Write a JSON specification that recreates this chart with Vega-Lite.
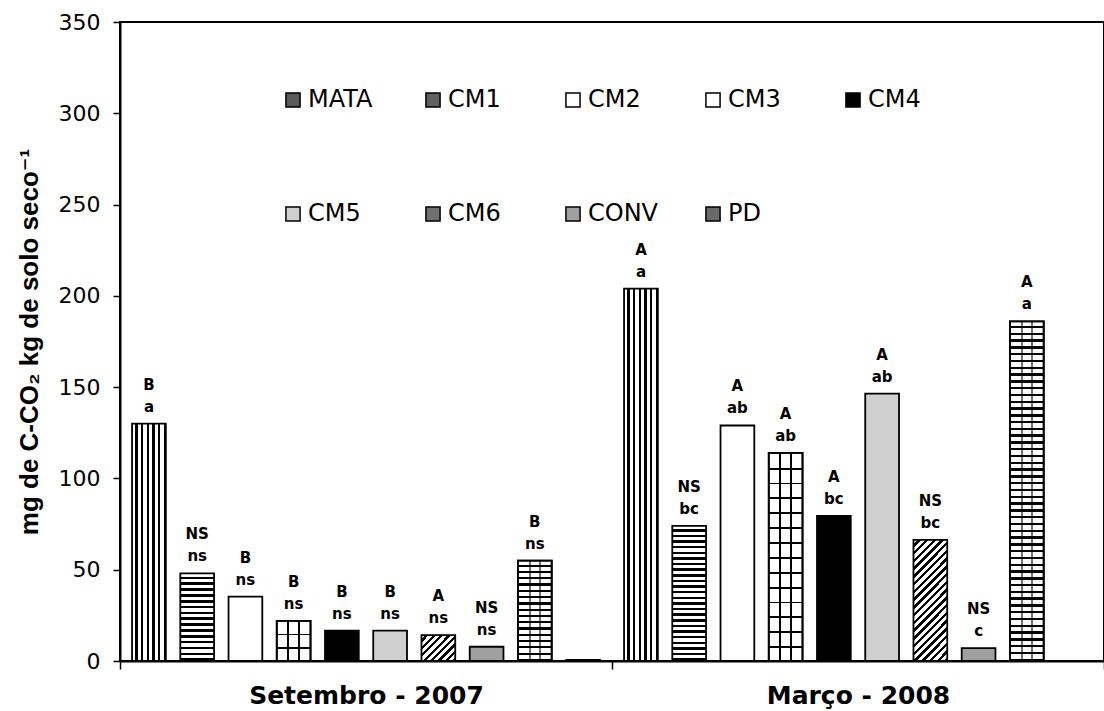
{
  "$schema": "https://vega.github.io/schema/vega-lite/v6.json",
  "width": 984,
  "height": 639,
  "autosize": {"type": "none"},
  "padding": {"left": 120, "top": 22, "right": 0, "bottom": 50},
  "background": "white",
  "config": {
    "view": {"stroke": "black", "strokeWidth": 2},
    "axis": {"domainColor": "black", "domainWidth": 2, "tickColor": "black", "tickWidth": 1.5, "grid": false, "labelColor": "black", "titleColor": "black"}
  },
  "data": {"values": [
    {"period": "Setembro - 2007", "trt": "MATA", "v": 130, "up": "B", "low": "a"},
    {"period": "Setembro - 2007", "trt": "CM1", "v": 48, "up": "NS", "low": "ns"},
    {"period": "Setembro - 2007", "trt": "CM2", "v": 35.3, "up": "B", "low": "ns"},
    {"period": "Setembro - 2007", "trt": "CM3", "v": 22, "up": "B", "low": "ns"},
    {"period": "Setembro - 2007", "trt": "CM4", "v": 16.6, "up": "B", "low": "ns"},
    {"period": "Setembro - 2007", "trt": "CM5", "v": 16.6, "up": "B", "low": "ns"},
    {"period": "Setembro - 2007", "trt": "CM6", "v": 14.2, "up": "A", "low": "ns"},
    {"period": "Setembro - 2007", "trt": "CONV", "v": 7.8, "up": "NS", "low": "ns"},
    {"period": "Setembro - 2007", "trt": "PD", "v": 55, "up": "B", "low": "ns"},
    {"period": "Setembro - 2007", "trt": "outro", "v": 0.6, "up": null, "low": null},
    {"period": "Março - 2008", "trt": "MATA", "v": 204, "up": "A", "low": "a"},
    {"period": "Março - 2008", "trt": "CM1", "v": 74, "up": "NS", "low": "bc"},
    {"period": "Março - 2008", "trt": "CM2", "v": 129, "up": "A", "low": "ab"},
    {"period": "Março - 2008", "trt": "CM3", "v": 114, "up": "A", "low": "ab"},
    {"period": "Março - 2008", "trt": "CM4", "v": 79.5, "up": "A", "low": "bc"},
    {"period": "Março - 2008", "trt": "CM5", "v": 146.5, "up": "A", "low": "ab"},
    {"period": "Março - 2008", "trt": "CM6", "v": 66.3, "up": "NS", "low": "bc"},
    {"period": "Março - 2008", "trt": "CONV", "v": 7, "up": "NS", "low": "c"},
    {"period": "Março - 2008", "trt": "PD", "v": 186, "up": "A", "low": "a"}
  ]},
  "encoding": {
    "x": {"field": "period", "type": "nominal",
      "scale": {"domain": ["Setembro - 2007", "Março - 2008"], "paddingInner": 0, "paddingOuter": 0},
      "axis": {"title": null, "tickBand": "extent", "labelAngle": 0, "labelLimit": 400, "labelFont": "DejaVu Sans", "labelFontWeight": "bold", "labelFontSize": 25, "labelPadding": 14, "tickSize": 8}},
    "xOffset": {"field": "trt", "type": "nominal",
      "scale": {"domain": ["MATA", "CM1", "CM2", "CM3", "CM4", "CM5", "CM6", "CONV", "PD", "outro"], "paddingInner": 0.3, "paddingOuter": 0.25}},
    "y": {"field": "v", "type": "quantitative",
      "scale": {"domain": [0, 350], "nice": false},
      "axis": {"values": [0, 50, 100, 150, 200, 250, 300, 350], "title": "mg de C-CO₂ kg de solo seco⁻¹", "titleFont": "Liberation Sans, DejaVu Sans", "titleFontSize": 26, "titleFontWeight": "bold", "titlePadding": 16, "labelFont": "DejaVu Sans", "labelFontSize": 22, "labelPadding": 13, "tickSize": 7}}
  },
  "layer": [
    {
      "mark": {"type": "bar", "stroke": "black", "strokeWidth": 1.8},
      "encoding": {
        "fill": {
          "field": "trt", "type": "nominal",
          "scale": {"domain": ["MATA", "CM1", "CM2", "CM3", "CM4", "CM5", "CM6", "CONV", "PD", "outro"],
                    "range": ["#5a5a5a", "#606060", "#ffffff", "#ffffff", "#000000", "#d0d0d0", "#707070", "#a0a0a0", "#6a6a6a", "#ffffff"]},
          "legend": {"title": null, "orient": "none", "legendX": 161, "legendY": 66, "columns": 5, "direction": "horizontal", "gridAlign": "all", "columnPadding": 42, "rowPadding": 90, "padding": 0, "symbolType": "square", "symbolSize": 200, "symbolStrokeColor": "black", "symbolStrokeWidth": 1.5, "symbolOpacity": 1, "labelFont": "DejaVu Sans", "labelFontSize": 24, "labelColor": "black", "labelOffset": 3,
                     "values": ["MATA", "CM1", "CM2", "CM3", "CM4", "CM5", "CM6", "CONV", "PD"]},
          "condition": [
            {"test": "datum.trt==='MATA'", "value": {"gradient": "linear", "x1": 0, "y1": 0, "x2": 1, "y2": 0, "stops": [
              {"offset": 0, "color": "#fff"}, {"offset": 0.1, "color": "#fff"}, {"offset": 0.1, "color": "#000"}, {"offset": 0.1667, "color": "#000"},
              {"offset": 0.1667, "color": "#fff"}, {"offset": 0.2667, "color": "#fff"}, {"offset": 0.2667, "color": "#000"}, {"offset": 0.3333, "color": "#000"},
              {"offset": 0.3333, "color": "#fff"}, {"offset": 0.4333, "color": "#fff"}, {"offset": 0.4333, "color": "#000"}, {"offset": 0.5, "color": "#000"},
              {"offset": 0.5, "color": "#fff"}, {"offset": 0.6, "color": "#fff"}, {"offset": 0.6, "color": "#000"}, {"offset": 0.6667, "color": "#000"},
              {"offset": 0.6667, "color": "#fff"}, {"offset": 0.7667, "color": "#fff"}, {"offset": 0.7667, "color": "#000"}, {"offset": 0.8333, "color": "#000"},
              {"offset": 0.8333, "color": "#fff"}, {"offset": 0.9333, "color": "#fff"}, {"offset": 0.9333, "color": "#000"}, {"offset": 1, "color": "#000"}]}},
            {"test": "datum.trt==='CM1' && datum.period==='Setembro - 2007'", "value": {"gradient": "linear", "x1": 0, "y1": 0, "x2": 0, "y2": 1, "stops": [
              {"offset": 0, "color": "#fff"}, {"offset": 0.0367, "color": "#fff"}, {"offset": 0.0367, "color": "#000"}, {"offset": 0.0667, "color": "#000"},
              {"offset": 0.0667, "color": "#fff"}, {"offset": 0.1033, "color": "#fff"}, {"offset": 0.1033, "color": "#000"}, {"offset": 0.1333, "color": "#000"},
              {"offset": 0.1333, "color": "#fff"}, {"offset": 0.17, "color": "#fff"}, {"offset": 0.17, "color": "#000"}, {"offset": 0.2, "color": "#000"},
              {"offset": 0.2, "color": "#fff"}, {"offset": 0.2367, "color": "#fff"}, {"offset": 0.2367, "color": "#000"}, {"offset": 0.2667, "color": "#000"},
              {"offset": 0.2667, "color": "#fff"}, {"offset": 0.3033, "color": "#fff"}, {"offset": 0.3033, "color": "#000"}, {"offset": 0.3333, "color": "#000"},
              {"offset": 0.3333, "color": "#fff"}, {"offset": 0.37, "color": "#fff"}, {"offset": 0.37, "color": "#000"}, {"offset": 0.4, "color": "#000"},
              {"offset": 0.4, "color": "#fff"}, {"offset": 0.4367, "color": "#fff"}, {"offset": 0.4367, "color": "#000"}, {"offset": 0.4667, "color": "#000"},
              {"offset": 0.4667, "color": "#fff"}, {"offset": 0.5033, "color": "#fff"}, {"offset": 0.5033, "color": "#000"}, {"offset": 0.5333, "color": "#000"},
              {"offset": 0.5333, "color": "#fff"}, {"offset": 0.57, "color": "#fff"}, {"offset": 0.57, "color": "#000"}, {"offset": 0.6, "color": "#000"},
              {"offset": 0.6, "color": "#fff"}, {"offset": 0.6367, "color": "#fff"}, {"offset": 0.6367, "color": "#000"}, {"offset": 0.6667, "color": "#000"},
              {"offset": 0.6667, "color": "#fff"}, {"offset": 0.7033, "color": "#fff"}, {"offset": 0.7033, "color": "#000"}, {"offset": 0.7333, "color": "#000"},
              {"offset": 0.7333, "color": "#fff"}, {"offset": 0.77, "color": "#fff"}, {"offset": 0.77, "color": "#000"}, {"offset": 0.8, "color": "#000"},
              {"offset": 0.8, "color": "#fff"}, {"offset": 0.8367, "color": "#fff"}, {"offset": 0.8367, "color": "#000"}, {"offset": 0.8667, "color": "#000"},
              {"offset": 0.8667, "color": "#fff"}, {"offset": 0.9033, "color": "#fff"}, {"offset": 0.9033, "color": "#000"}, {"offset": 0.9333, "color": "#000"},
              {"offset": 0.9333, "color": "#fff"}, {"offset": 0.97, "color": "#fff"}, {"offset": 0.97, "color": "#000"}, {"offset": 1, "color": "#000"}]}},
            {"test": "datum.trt==='CM1'", "value": {"gradient": "linear", "x1": 0, "y1": 0, "x2": 0, "y2": 1, "stops": [
              {"offset": 0, "color": "#fff"}, {"offset": 0.0229, "color": "#fff"}, {"offset": 0.0229, "color": "#000"}, {"offset": 0.0417, "color": "#000"},
              {"offset": 0.0417, "color": "#fff"}, {"offset": 0.0646, "color": "#fff"}, {"offset": 0.0646, "color": "#000"}, {"offset": 0.0833, "color": "#000"},
              {"offset": 0.0833, "color": "#fff"}, {"offset": 0.1063, "color": "#fff"}, {"offset": 0.1063, "color": "#000"}, {"offset": 0.125, "color": "#000"},
              {"offset": 0.125, "color": "#fff"}, {"offset": 0.1479, "color": "#fff"}, {"offset": 0.1479, "color": "#000"}, {"offset": 0.1667, "color": "#000"},
              {"offset": 0.1667, "color": "#fff"}, {"offset": 0.1896, "color": "#fff"}, {"offset": 0.1896, "color": "#000"}, {"offset": 0.2083, "color": "#000"},
              {"offset": 0.2083, "color": "#fff"}, {"offset": 0.2313, "color": "#fff"}, {"offset": 0.2313, "color": "#000"}, {"offset": 0.25, "color": "#000"},
              {"offset": 0.25, "color": "#fff"}, {"offset": 0.2729, "color": "#fff"}, {"offset": 0.2729, "color": "#000"}, {"offset": 0.2917, "color": "#000"},
              {"offset": 0.2917, "color": "#fff"}, {"offset": 0.3146, "color": "#fff"}, {"offset": 0.3146, "color": "#000"}, {"offset": 0.3333, "color": "#000"},
              {"offset": 0.3333, "color": "#fff"}, {"offset": 0.3563, "color": "#fff"}, {"offset": 0.3563, "color": "#000"}, {"offset": 0.375, "color": "#000"},
              {"offset": 0.375, "color": "#fff"}, {"offset": 0.3979, "color": "#fff"}, {"offset": 0.3979, "color": "#000"}, {"offset": 0.4167, "color": "#000"},
              {"offset": 0.4167, "color": "#fff"}, {"offset": 0.4396, "color": "#fff"}, {"offset": 0.4396, "color": "#000"}, {"offset": 0.4583, "color": "#000"},
              {"offset": 0.4583, "color": "#fff"}, {"offset": 0.4813, "color": "#fff"}, {"offset": 0.4813, "color": "#000"}, {"offset": 0.5, "color": "#000"},
              {"offset": 0.5, "color": "#fff"}, {"offset": 0.5229, "color": "#fff"}, {"offset": 0.5229, "color": "#000"}, {"offset": 0.5417, "color": "#000"},
              {"offset": 0.5417, "color": "#fff"}, {"offset": 0.5646, "color": "#fff"}, {"offset": 0.5646, "color": "#000"}, {"offset": 0.5833, "color": "#000"},
              {"offset": 0.5833, "color": "#fff"}, {"offset": 0.6063, "color": "#fff"}, {"offset": 0.6063, "color": "#000"}, {"offset": 0.625, "color": "#000"},
              {"offset": 0.625, "color": "#fff"}, {"offset": 0.6479, "color": "#fff"}, {"offset": 0.6479, "color": "#000"}, {"offset": 0.6667, "color": "#000"},
              {"offset": 0.6667, "color": "#fff"}, {"offset": 0.6896, "color": "#fff"}, {"offset": 0.6896, "color": "#000"}, {"offset": 0.7083, "color": "#000"},
              {"offset": 0.7083, "color": "#fff"}, {"offset": 0.7313, "color": "#fff"}, {"offset": 0.7313, "color": "#000"}, {"offset": 0.75, "color": "#000"},
              {"offset": 0.75, "color": "#fff"}, {"offset": 0.7729, "color": "#fff"}, {"offset": 0.7729, "color": "#000"}, {"offset": 0.7917, "color": "#000"},
              {"offset": 0.7917, "color": "#fff"}, {"offset": 0.8146, "color": "#fff"}, {"offset": 0.8146, "color": "#000"}, {"offset": 0.8333, "color": "#000"},
              {"offset": 0.8333, "color": "#fff"}, {"offset": 0.8563, "color": "#fff"}, {"offset": 0.8563, "color": "#000"}, {"offset": 0.875, "color": "#000"},
              {"offset": 0.875, "color": "#fff"}, {"offset": 0.8979, "color": "#fff"}, {"offset": 0.8979, "color": "#000"}, {"offset": 0.9167, "color": "#000"},
              {"offset": 0.9167, "color": "#fff"}, {"offset": 0.9396, "color": "#fff"}, {"offset": 0.9396, "color": "#000"}, {"offset": 0.9583, "color": "#000"},
              {"offset": 0.9583, "color": "#fff"}, {"offset": 0.9813, "color": "#fff"}, {"offset": 0.9813, "color": "#000"}, {"offset": 1, "color": "#000"}]}},
            {"test": "datum.trt==='CM3'", "value": {"gradient": "linear", "x1": 0, "y1": 0, "x2": 1, "y2": 0, "stops": [
              {"offset": 0, "color": "#fff"}, {"offset": 0.31, "color": "#fff"}, {"offset": 0.31, "color": "#000"}, {"offset": 0.36, "color": "#000"},
              {"offset": 0.36, "color": "#fff"}, {"offset": 0.64, "color": "#fff"}, {"offset": 0.64, "color": "#000"}, {"offset": 0.69, "color": "#000"},
              {"offset": 0.69, "color": "#fff"}, {"offset": 1, "color": "#fff"}]}},
            {"test": "datum.trt==='CM6' && datum.period==='Setembro - 2007'", "value": {"gradient": "linear", "x1": 0, "y1": 0, "x2": 1.113, "y2": 0.851, "stops": [
              {"offset": 0, "color": "#fff"}, {"offset": 0.069, "color": "#fff"}, {"offset": 0.069, "color": "#000"}, {"offset": 0.125, "color": "#000"},
              {"offset": 0.125, "color": "#fff"}, {"offset": 0.194, "color": "#fff"}, {"offset": 0.194, "color": "#000"}, {"offset": 0.25, "color": "#000"},
              {"offset": 0.25, "color": "#fff"}, {"offset": 0.319, "color": "#fff"}, {"offset": 0.319, "color": "#000"}, {"offset": 0.375, "color": "#000"},
              {"offset": 0.375, "color": "#fff"}, {"offset": 0.444, "color": "#fff"}, {"offset": 0.444, "color": "#000"}, {"offset": 0.5, "color": "#000"},
              {"offset": 0.5, "color": "#fff"}, {"offset": 0.569, "color": "#fff"}, {"offset": 0.569, "color": "#000"}, {"offset": 0.625, "color": "#000"},
              {"offset": 0.625, "color": "#fff"}, {"offset": 0.694, "color": "#fff"}, {"offset": 0.694, "color": "#000"}, {"offset": 0.75, "color": "#000"},
              {"offset": 0.75, "color": "#fff"}, {"offset": 0.819, "color": "#fff"}, {"offset": 0.819, "color": "#000"}, {"offset": 0.875, "color": "#000"},
              {"offset": 0.875, "color": "#fff"}, {"offset": 0.944, "color": "#fff"}, {"offset": 0.944, "color": "#000"}, {"offset": 1, "color": "#000"}]}},
            {"test": "datum.trt==='CM6'", "value": {"gradient": "linear", "x1": 0, "y1": 0, "x2": 0.3336, "y2": 1.187, "stops": [
              {"offset": 0, "color": "#fff"}, {"offset": 0.0275, "color": "#fff"}, {"offset": 0.0275, "color": "#000"}, {"offset": 0.05, "color": "#000"},
              {"offset": 0.05, "color": "#fff"}, {"offset": 0.0775, "color": "#fff"}, {"offset": 0.0775, "color": "#000"}, {"offset": 0.1, "color": "#000"},
              {"offset": 0.1, "color": "#fff"}, {"offset": 0.1275, "color": "#fff"}, {"offset": 0.1275, "color": "#000"}, {"offset": 0.15, "color": "#000"},
              {"offset": 0.15, "color": "#fff"}, {"offset": 0.1775, "color": "#fff"}, {"offset": 0.1775, "color": "#000"}, {"offset": 0.2, "color": "#000"},
              {"offset": 0.2, "color": "#fff"}, {"offset": 0.2275, "color": "#fff"}, {"offset": 0.2275, "color": "#000"}, {"offset": 0.25, "color": "#000"},
              {"offset": 0.25, "color": "#fff"}, {"offset": 0.2775, "color": "#fff"}, {"offset": 0.2775, "color": "#000"}, {"offset": 0.3, "color": "#000"},
              {"offset": 0.3, "color": "#fff"}, {"offset": 0.3275, "color": "#fff"}, {"offset": 0.3275, "color": "#000"}, {"offset": 0.35, "color": "#000"},
              {"offset": 0.35, "color": "#fff"}, {"offset": 0.3775, "color": "#fff"}, {"offset": 0.3775, "color": "#000"}, {"offset": 0.4, "color": "#000"},
              {"offset": 0.4, "color": "#fff"}, {"offset": 0.4275, "color": "#fff"}, {"offset": 0.4275, "color": "#000"}, {"offset": 0.45, "color": "#000"},
              {"offset": 0.45, "color": "#fff"}, {"offset": 0.4775, "color": "#fff"}, {"offset": 0.4775, "color": "#000"}, {"offset": 0.5, "color": "#000"},
              {"offset": 0.5, "color": "#fff"}, {"offset": 0.5275, "color": "#fff"}, {"offset": 0.5275, "color": "#000"}, {"offset": 0.55, "color": "#000"},
              {"offset": 0.55, "color": "#fff"}, {"offset": 0.5775, "color": "#fff"}, {"offset": 0.5775, "color": "#000"}, {"offset": 0.6, "color": "#000"},
              {"offset": 0.6, "color": "#fff"}, {"offset": 0.6275, "color": "#fff"}, {"offset": 0.6275, "color": "#000"}, {"offset": 0.65, "color": "#000"},
              {"offset": 0.65, "color": "#fff"}, {"offset": 0.6775, "color": "#fff"}, {"offset": 0.6775, "color": "#000"}, {"offset": 0.7, "color": "#000"},
              {"offset": 0.7, "color": "#fff"}, {"offset": 0.7275, "color": "#fff"}, {"offset": 0.7275, "color": "#000"}, {"offset": 0.75, "color": "#000"},
              {"offset": 0.75, "color": "#fff"}, {"offset": 0.7775, "color": "#fff"}, {"offset": 0.7775, "color": "#000"}, {"offset": 0.8, "color": "#000"},
              {"offset": 0.8, "color": "#fff"}, {"offset": 0.8275, "color": "#fff"}, {"offset": 0.8275, "color": "#000"}, {"offset": 0.85, "color": "#000"},
              {"offset": 0.85, "color": "#fff"}, {"offset": 0.8775, "color": "#fff"}, {"offset": 0.8775, "color": "#000"}, {"offset": 0.9, "color": "#000"},
              {"offset": 0.9, "color": "#fff"}, {"offset": 0.9275, "color": "#fff"}, {"offset": 0.9275, "color": "#000"}, {"offset": 0.95, "color": "#000"},
              {"offset": 0.95, "color": "#fff"}, {"offset": 0.9775, "color": "#fff"}, {"offset": 0.9775, "color": "#000"}, {"offset": 1, "color": "#000"}]}},
            {"test": "datum.trt==='PD' && datum.period==='Setembro - 2007'", "value": {"gradient": "linear", "x1": 0, "y1": 0, "x2": 0, "y2": 1, "stops": [
              {"offset": 0, "color": "#fff"}, {"offset": 0.0406, "color": "#fff"}, {"offset": 0.0406, "color": "#000"}, {"offset": 0.0625, "color": "#000"},
              {"offset": 0.0625, "color": "#fff"}, {"offset": 0.1031, "color": "#fff"}, {"offset": 0.1031, "color": "#000"}, {"offset": 0.125, "color": "#000"},
              {"offset": 0.125, "color": "#fff"}, {"offset": 0.1656, "color": "#fff"}, {"offset": 0.1656, "color": "#000"}, {"offset": 0.1875, "color": "#000"},
              {"offset": 0.1875, "color": "#fff"}, {"offset": 0.2281, "color": "#fff"}, {"offset": 0.2281, "color": "#000"}, {"offset": 0.25, "color": "#000"},
              {"offset": 0.25, "color": "#fff"}, {"offset": 0.2906, "color": "#fff"}, {"offset": 0.2906, "color": "#000"}, {"offset": 0.3125, "color": "#000"},
              {"offset": 0.3125, "color": "#fff"}, {"offset": 0.3531, "color": "#fff"}, {"offset": 0.3531, "color": "#000"}, {"offset": 0.375, "color": "#000"},
              {"offset": 0.375, "color": "#fff"}, {"offset": 0.4156, "color": "#fff"}, {"offset": 0.4156, "color": "#000"}, {"offset": 0.4375, "color": "#000"},
              {"offset": 0.4375, "color": "#fff"}, {"offset": 0.4781, "color": "#fff"}, {"offset": 0.4781, "color": "#000"}, {"offset": 0.5, "color": "#000"},
              {"offset": 0.5, "color": "#fff"}, {"offset": 0.5406, "color": "#fff"}, {"offset": 0.5406, "color": "#000"}, {"offset": 0.5625, "color": "#000"},
              {"offset": 0.5625, "color": "#fff"}, {"offset": 0.6031, "color": "#fff"}, {"offset": 0.6031, "color": "#000"}, {"offset": 0.625, "color": "#000"},
              {"offset": 0.625, "color": "#fff"}, {"offset": 0.6656, "color": "#fff"}, {"offset": 0.6656, "color": "#000"}, {"offset": 0.6875, "color": "#000"},
              {"offset": 0.6875, "color": "#fff"}, {"offset": 0.7281, "color": "#fff"}, {"offset": 0.7281, "color": "#000"}, {"offset": 0.75, "color": "#000"},
              {"offset": 0.75, "color": "#fff"}, {"offset": 0.7906, "color": "#fff"}, {"offset": 0.7906, "color": "#000"}, {"offset": 0.8125, "color": "#000"},
              {"offset": 0.8125, "color": "#fff"}, {"offset": 0.8531, "color": "#fff"}, {"offset": 0.8531, "color": "#000"}, {"offset": 0.875, "color": "#000"},
              {"offset": 0.875, "color": "#fff"}, {"offset": 0.9156, "color": "#fff"}, {"offset": 0.9156, "color": "#000"}, {"offset": 0.9375, "color": "#000"},
              {"offset": 0.9375, "color": "#fff"}, {"offset": 0.9781, "color": "#fff"}, {"offset": 0.9781, "color": "#000"}, {"offset": 1, "color": "#000"}]}},
            {"test": "datum.trt==='PD'", "value": {"gradient": "linear", "x1": 0, "y1": 0, "x2": 0, "y2": 1, "stops": [
              {"offset": 0, "color": "#fff"}, {"offset": 0.013, "color": "#fff"}, {"offset": 0.013, "color": "#000"}, {"offset": 0.02, "color": "#000"},
              {"offset": 0.02, "color": "#fff"}, {"offset": 0.033, "color": "#fff"}, {"offset": 0.033, "color": "#000"}, {"offset": 0.04, "color": "#000"},
              {"offset": 0.04, "color": "#fff"}, {"offset": 0.053, "color": "#fff"}, {"offset": 0.053, "color": "#000"}, {"offset": 0.06, "color": "#000"},
              {"offset": 0.06, "color": "#fff"}, {"offset": 0.073, "color": "#fff"}, {"offset": 0.073, "color": "#000"}, {"offset": 0.08, "color": "#000"},
              {"offset": 0.08, "color": "#fff"}, {"offset": 0.093, "color": "#fff"}, {"offset": 0.093, "color": "#000"}, {"offset": 0.1, "color": "#000"},
              {"offset": 0.1, "color": "#fff"}, {"offset": 0.113, "color": "#fff"}, {"offset": 0.113, "color": "#000"}, {"offset": 0.12, "color": "#000"},
              {"offset": 0.12, "color": "#fff"}, {"offset": 0.133, "color": "#fff"}, {"offset": 0.133, "color": "#000"}, {"offset": 0.14, "color": "#000"},
              {"offset": 0.14, "color": "#fff"}, {"offset": 0.153, "color": "#fff"}, {"offset": 0.153, "color": "#000"}, {"offset": 0.16, "color": "#000"},
              {"offset": 0.16, "color": "#fff"}, {"offset": 0.173, "color": "#fff"}, {"offset": 0.173, "color": "#000"}, {"offset": 0.18, "color": "#000"},
              {"offset": 0.18, "color": "#fff"}, {"offset": 0.193, "color": "#fff"}, {"offset": 0.193, "color": "#000"}, {"offset": 0.2, "color": "#000"},
              {"offset": 0.2, "color": "#fff"}, {"offset": 0.213, "color": "#fff"}, {"offset": 0.213, "color": "#000"}, {"offset": 0.22, "color": "#000"},
              {"offset": 0.22, "color": "#fff"}, {"offset": 0.233, "color": "#fff"}, {"offset": 0.233, "color": "#000"}, {"offset": 0.24, "color": "#000"},
              {"offset": 0.24, "color": "#fff"}, {"offset": 0.253, "color": "#fff"}, {"offset": 0.253, "color": "#000"}, {"offset": 0.26, "color": "#000"},
              {"offset": 0.26, "color": "#fff"}, {"offset": 0.273, "color": "#fff"}, {"offset": 0.273, "color": "#000"}, {"offset": 0.28, "color": "#000"},
              {"offset": 0.28, "color": "#fff"}, {"offset": 0.293, "color": "#fff"}, {"offset": 0.293, "color": "#000"}, {"offset": 0.3, "color": "#000"},
              {"offset": 0.3, "color": "#fff"}, {"offset": 0.313, "color": "#fff"}, {"offset": 0.313, "color": "#000"}, {"offset": 0.32, "color": "#000"},
              {"offset": 0.32, "color": "#fff"}, {"offset": 0.333, "color": "#fff"}, {"offset": 0.333, "color": "#000"}, {"offset": 0.34, "color": "#000"},
              {"offset": 0.34, "color": "#fff"}, {"offset": 0.353, "color": "#fff"}, {"offset": 0.353, "color": "#000"}, {"offset": 0.36, "color": "#000"},
              {"offset": 0.36, "color": "#fff"}, {"offset": 0.373, "color": "#fff"}, {"offset": 0.373, "color": "#000"}, {"offset": 0.38, "color": "#000"},
              {"offset": 0.38, "color": "#fff"}, {"offset": 0.393, "color": "#fff"}, {"offset": 0.393, "color": "#000"}, {"offset": 0.4, "color": "#000"},
              {"offset": 0.4, "color": "#fff"}, {"offset": 0.413, "color": "#fff"}, {"offset": 0.413, "color": "#000"}, {"offset": 0.42, "color": "#000"},
              {"offset": 0.42, "color": "#fff"}, {"offset": 0.433, "color": "#fff"}, {"offset": 0.433, "color": "#000"}, {"offset": 0.44, "color": "#000"},
              {"offset": 0.44, "color": "#fff"}, {"offset": 0.453, "color": "#fff"}, {"offset": 0.453, "color": "#000"}, {"offset": 0.46, "color": "#000"},
              {"offset": 0.46, "color": "#fff"}, {"offset": 0.473, "color": "#fff"}, {"offset": 0.473, "color": "#000"}, {"offset": 0.48, "color": "#000"},
              {"offset": 0.48, "color": "#fff"}, {"offset": 0.493, "color": "#fff"}, {"offset": 0.493, "color": "#000"}, {"offset": 0.5, "color": "#000"},
              {"offset": 0.5, "color": "#fff"}, {"offset": 0.513, "color": "#fff"}, {"offset": 0.513, "color": "#000"}, {"offset": 0.52, "color": "#000"},
              {"offset": 0.52, "color": "#fff"}, {"offset": 0.533, "color": "#fff"}, {"offset": 0.533, "color": "#000"}, {"offset": 0.54, "color": "#000"},
              {"offset": 0.54, "color": "#fff"}, {"offset": 0.553, "color": "#fff"}, {"offset": 0.553, "color": "#000"}, {"offset": 0.56, "color": "#000"},
              {"offset": 0.56, "color": "#fff"}, {"offset": 0.573, "color": "#fff"}, {"offset": 0.573, "color": "#000"}, {"offset": 0.58, "color": "#000"},
              {"offset": 0.58, "color": "#fff"}, {"offset": 0.593, "color": "#fff"}, {"offset": 0.593, "color": "#000"}, {"offset": 0.6, "color": "#000"},
              {"offset": 0.6, "color": "#fff"}, {"offset": 0.613, "color": "#fff"}, {"offset": 0.613, "color": "#000"}, {"offset": 0.62, "color": "#000"},
              {"offset": 0.62, "color": "#fff"}, {"offset": 0.633, "color": "#fff"}, {"offset": 0.633, "color": "#000"}, {"offset": 0.64, "color": "#000"},
              {"offset": 0.64, "color": "#fff"}, {"offset": 0.653, "color": "#fff"}, {"offset": 0.653, "color": "#000"}, {"offset": 0.66, "color": "#000"},
              {"offset": 0.66, "color": "#fff"}, {"offset": 0.673, "color": "#fff"}, {"offset": 0.673, "color": "#000"}, {"offset": 0.68, "color": "#000"},
              {"offset": 0.68, "color": "#fff"}, {"offset": 0.693, "color": "#fff"}, {"offset": 0.693, "color": "#000"}, {"offset": 0.7, "color": "#000"},
              {"offset": 0.7, "color": "#fff"}, {"offset": 0.713, "color": "#fff"}, {"offset": 0.713, "color": "#000"}, {"offset": 0.72, "color": "#000"},
              {"offset": 0.72, "color": "#fff"}, {"offset": 0.733, "color": "#fff"}, {"offset": 0.733, "color": "#000"}, {"offset": 0.74, "color": "#000"},
              {"offset": 0.74, "color": "#fff"}, {"offset": 0.753, "color": "#fff"}, {"offset": 0.753, "color": "#000"}, {"offset": 0.76, "color": "#000"},
              {"offset": 0.76, "color": "#fff"}, {"offset": 0.773, "color": "#fff"}, {"offset": 0.773, "color": "#000"}, {"offset": 0.78, "color": "#000"},
              {"offset": 0.78, "color": "#fff"}, {"offset": 0.793, "color": "#fff"}, {"offset": 0.793, "color": "#000"}, {"offset": 0.8, "color": "#000"},
              {"offset": 0.8, "color": "#fff"}, {"offset": 0.813, "color": "#fff"}, {"offset": 0.813, "color": "#000"}, {"offset": 0.82, "color": "#000"},
              {"offset": 0.82, "color": "#fff"}, {"offset": 0.833, "color": "#fff"}, {"offset": 0.833, "color": "#000"}, {"offset": 0.84, "color": "#000"},
              {"offset": 0.84, "color": "#fff"}, {"offset": 0.853, "color": "#fff"}, {"offset": 0.853, "color": "#000"}, {"offset": 0.86, "color": "#000"},
              {"offset": 0.86, "color": "#fff"}, {"offset": 0.873, "color": "#fff"}, {"offset": 0.873, "color": "#000"}, {"offset": 0.88, "color": "#000"},
              {"offset": 0.88, "color": "#fff"}, {"offset": 0.893, "color": "#fff"}, {"offset": 0.893, "color": "#000"}, {"offset": 0.9, "color": "#000"},
              {"offset": 0.9, "color": "#fff"}, {"offset": 0.913, "color": "#fff"}, {"offset": 0.913, "color": "#000"}, {"offset": 0.92, "color": "#000"},
              {"offset": 0.92, "color": "#fff"}, {"offset": 0.933, "color": "#fff"}, {"offset": 0.933, "color": "#000"}, {"offset": 0.94, "color": "#000"},
              {"offset": 0.94, "color": "#fff"}, {"offset": 0.953, "color": "#fff"}, {"offset": 0.953, "color": "#000"}, {"offset": 0.96, "color": "#000"},
              {"offset": 0.96, "color": "#fff"}, {"offset": 0.973, "color": "#fff"}, {"offset": 0.973, "color": "#000"}, {"offset": 0.98, "color": "#000"},
              {"offset": 0.98, "color": "#fff"}, {"offset": 0.993, "color": "#fff"}, {"offset": 0.993, "color": "#000"}, {"offset": 1, "color": "#000"}]}}
          ]
        }
      }
    },
    {
      "transform": [{"filter": "datum.trt==='CM3' || datum.trt==='PD'"}],
      "mark": {"type": "bar", "stroke": "black", "strokeWidth": 1.8},
      "encoding": {
        "fill": {
          "condition": [
            {"test": "datum.trt==='CM3' && datum.period==='Setembro - 2007'", "value": {"gradient": "linear", "x1": 0, "y1": 0, "x2": 0, "y2": 1, "stops": [
              {"offset": 0, "color": "rgba(0,0,0,0)"}, {"offset": 0.32, "color": "rgba(0,0,0,0)"}, {"offset": 0.32, "color": "#000"}, {"offset": 0.36, "color": "#000"},
              {"offset": 0.36, "color": "rgba(0,0,0,0)"}, {"offset": 0.66, "color": "rgba(0,0,0,0)"}, {"offset": 0.66, "color": "#000"}, {"offset": 0.7, "color": "#000"},
              {"offset": 0.7, "color": "rgba(0,0,0,0)"}, {"offset": 1, "color": "rgba(0,0,0,0)"}]}},
            {"test": "datum.trt==='CM3'", "value": {"gradient": "linear", "x1": 0, "y1": 0, "x2": 0, "y2": 1, "stops": [
              {"offset": 0, "color": "rgba(0,0,0,0)"}, {"offset": 0.0714, "color": "rgba(0,0,0,0)"}, {"offset": 0.0714, "color": "#000"}, {"offset": 0.0804, "color": "#000"},
              {"offset": 0.0804, "color": "rgba(0,0,0,0)"}, {"offset": 0.1429, "color": "rgba(0,0,0,0)"}, {"offset": 0.1429, "color": "#000"}, {"offset": 0.1519, "color": "#000"},
              {"offset": 0.1519, "color": "rgba(0,0,0,0)"}, {"offset": 0.2143, "color": "rgba(0,0,0,0)"}, {"offset": 0.2143, "color": "#000"}, {"offset": 0.2233, "color": "#000"},
              {"offset": 0.2233, "color": "rgba(0,0,0,0)"}, {"offset": 0.2857, "color": "rgba(0,0,0,0)"}, {"offset": 0.2857, "color": "#000"}, {"offset": 0.2947, "color": "#000"},
              {"offset": 0.2947, "color": "rgba(0,0,0,0)"}, {"offset": 0.3571, "color": "rgba(0,0,0,0)"}, {"offset": 0.3571, "color": "#000"}, {"offset": 0.3661, "color": "#000"},
              {"offset": 0.3661, "color": "rgba(0,0,0,0)"}, {"offset": 0.4286, "color": "rgba(0,0,0,0)"}, {"offset": 0.4286, "color": "#000"}, {"offset": 0.4376, "color": "#000"},
              {"offset": 0.4376, "color": "rgba(0,0,0,0)"}, {"offset": 0.5, "color": "rgba(0,0,0,0)"}, {"offset": 0.5, "color": "#000"}, {"offset": 0.509, "color": "#000"},
              {"offset": 0.509, "color": "rgba(0,0,0,0)"}, {"offset": 0.5714, "color": "rgba(0,0,0,0)"}, {"offset": 0.5714, "color": "#000"}, {"offset": 0.5804, "color": "#000"},
              {"offset": 0.5804, "color": "rgba(0,0,0,0)"}, {"offset": 0.6429, "color": "rgba(0,0,0,0)"}, {"offset": 0.6429, "color": "#000"}, {"offset": 0.6519, "color": "#000"},
              {"offset": 0.6519, "color": "rgba(0,0,0,0)"}, {"offset": 0.7143, "color": "rgba(0,0,0,0)"}, {"offset": 0.7143, "color": "#000"}, {"offset": 0.7233, "color": "#000"},
              {"offset": 0.7233, "color": "rgba(0,0,0,0)"}, {"offset": 0.7857, "color": "rgba(0,0,0,0)"}, {"offset": 0.7857, "color": "#000"}, {"offset": 0.7947, "color": "#000"},
              {"offset": 0.7947, "color": "rgba(0,0,0,0)"}, {"offset": 0.8571, "color": "rgba(0,0,0,0)"}, {"offset": 0.8571, "color": "#000"}, {"offset": 0.8661, "color": "#000"},
              {"offset": 0.8661, "color": "rgba(0,0,0,0)"}, {"offset": 0.9286, "color": "rgba(0,0,0,0)"}, {"offset": 0.9286, "color": "#000"}, {"offset": 0.9376, "color": "#000"},
              {"offset": 0.9376, "color": "rgba(0,0,0,0)"}, {"offset": 1, "color": "rgba(0,0,0,0)"}]}},
            {"test": "datum.trt==='PD'", "value": {"gradient": "linear", "x1": 0, "y1": 0, "x2": 1, "y2": 0, "stops": [
              {"offset": 0, "color": "rgba(0,0,0,0)"}, {"offset": 0.33, "color": "rgba(0,0,0,0)"}, {"offset": 0.33, "color": "rgba(0,0,0,0.55)"}, {"offset": 0.38, "color": "rgba(0,0,0,0.55)"},
              {"offset": 0.38, "color": "rgba(0,0,0,0)"}, {"offset": 0.62, "color": "rgba(0,0,0,0)"}, {"offset": 0.62, "color": "rgba(0,0,0,0.55)"}, {"offset": 0.67, "color": "rgba(0,0,0,0.55)"},
              {"offset": 0.67, "color": "rgba(0,0,0,0)"}, {"offset": 1, "color": "rgba(0,0,0,0)"}]}}
          ],
          "value": "rgba(0,0,0,0)"
        }
      }
    },
    {
      "transform": [{"filter": "datum.up != null"}],
      "mark": {"type": "text", "dy": -34, "baseline": "alphabetic", "font": "DejaVu Sans", "fontWeight": "bold", "fontSize": 15, "color": "black"},
      "encoding": {"text": {"field": "up"}}
    },
    {
      "transform": [{"filter": "datum.low != null"}],
      "mark": {"type": "text", "dy": -12, "baseline": "alphabetic", "font": "DejaVu Sans", "fontWeight": "bold", "fontSize": 15, "color": "black"},
      "encoding": {"text": {"field": "low"}}
    }
  ]
}
